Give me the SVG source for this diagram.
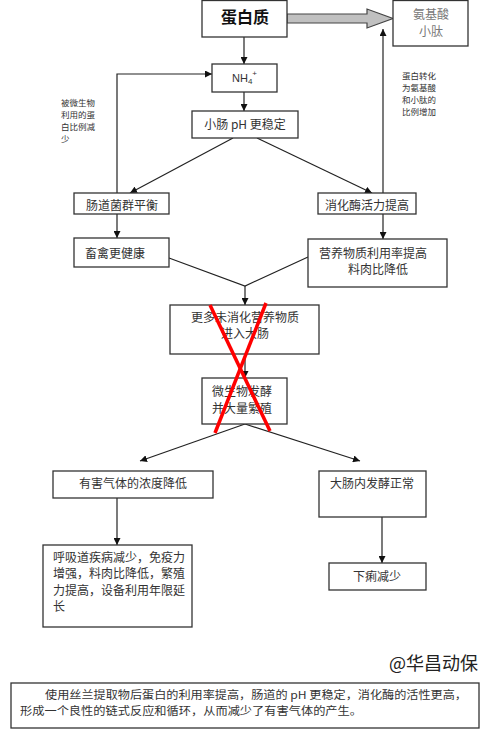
<svg xmlns="http://www.w3.org/2000/svg" width="491" height="740" viewBox="0 0 491 740">
<defs>
<marker id="ah" viewBox="0 0 10 10" refX="10" refY="5" markerWidth="7" markerHeight="7" markerUnits="userSpaceOnUse" orient="auto"><path d="M0,0 L10,5 L0,10 z" fill="#111"/></marker>
</defs>
<style>
.box{fill:#fff;stroke:#333;stroke-width:1.3}
.t{font-family:"Noto Sans CJK SC","Liberation Sans",sans-serif;font-size:12px;fill:#333}
.c{text-anchor:middle}
.s{font-size:8.5px}
.ln{fill:none;stroke:#222;stroke-width:1.2}
.x{fill:none;stroke:#f00;stroke-width:3.5}
</style>
<rect width="491" height="740" fill="#fff"/>
<g id="connectors">
<polygon points="287,14 367,14 367,9 393,18.5 367,28 367,23 287,23" fill="#c0c0c0" stroke="#444" stroke-width="1.2"/>
<path class="ln" d="M244,37 V64" marker-end="url(#ah)"/>
<path class="ln" d="M244,92 V111" marker-end="url(#ah)"/>
<path class="ln" d="M117,193 V74 H212" marker-end="url(#ah)"/>
<path class="ln" d="M383,193 V29" marker-end="url(#ah)"/>
<path class="ln" d="M233,138 L130,193" marker-end="url(#ah)"/>
<path class="ln" d="M257,138 L372,193" marker-end="url(#ah)"/>
<path class="ln" d="M117,214 V238" marker-end="url(#ah)"/>
<path class="ln" d="M383,214 V239" marker-end="url(#ah)"/>
<path class="ln" d="M169,258 L245,286 L308,257"/>
<path class="ln" d="M245,286 V305" marker-end="url(#ah)"/>
<path class="ln" d="M245,354 V378" marker-end="url(#ah)"/>
<path class="ln" d="M245,424 L140,461" marker-end="url(#ah)"/>
<path class="ln" d="M245,424 L360,461" marker-end="url(#ah)"/>
<path class="ln" d="M117,498 V545" marker-end="url(#ah)"/>
<path class="ln" d="M382,517 V563" marker-end="url(#ah)"/>
</g>
<g id="n-protein"><rect class="box" x="202" y="0.5" width="85" height="36.5"/><text class="t c" x="245" y="23" style="font-size:16px;font-weight:bold;fill:#111">蛋白质</text></g>
<g id="n-amino"><rect class="box" x="393" y="0.5" width="75" height="45.5"/><text class="t c" x="431" y="18.5" style="fill:#777">氨基酸</text><text class="t c" x="431" y="35.5" style="fill:#777">小肽</text></g>
<g id="n-nh4"><rect class="box" x="212" y="64" width="65" height="28"/><text class="t" x="232" y="82" style="font-family:'Liberation Sans',sans-serif;font-size:11px">NH<tspan font-size="8" dy="2">4</tspan><tspan font-size="8" dy="-8">+</tspan></text></g>
<g id="n-ph"><rect class="box" x="192" y="111" width="106" height="27"/><text class="t c" x="245" y="128.5">小肠 pH 更稳定</text></g>
<g id="n-flora"><rect class="box" x="74" y="193" width="95" height="21"/><text class="t c" x="122" y="209.5">肠道菌群平衡</text></g>
<g id="n-enzyme"><rect class="box" x="318" y="193" width="98" height="21"/><text class="t c" x="367" y="209.5">消化酶活力提高</text></g>
<g id="n-healthy"><rect class="box" x="74" y="238" width="95" height="29"/><text class="t" x="85" y="257.5">畜禽更健康</text></g>
<g id="n-nutri"><rect class="box" x="308" y="239" width="139" height="48"/><text class="t c" x="373" y="257.5">营养物质利用率提高</text><text class="t c" x="378" y="273.5">料肉比降低</text></g>
<g id="n-more"><rect class="box" x="170" y="305" width="149" height="49"/><text class="t c" x="245" y="321.5">更多未消化营养物质</text><text class="t c" x="245" y="337.5">进入大肠</text></g>
<g id="n-ferment"><rect class="box" x="202" y="378" width="85" height="46"/><text class="t" x="212" y="395.5">微生物发酵</text><text class="t" x="212" y="412.5">并大量繁殖</text></g>
<g id="n-gas"><rect class="box" x="53" y="471" width="160" height="27"/><text class="t c" x="133" y="487.5">有害气体的浓度降低</text></g>
<g id="n-normal"><rect class="box" x="319" y="471" width="107" height="46"/><text class="t c" x="372" y="487.5">大肠内发酵正常</text></g>
<g id="n-resp"><rect class="box" x="43" y="545" width="149" height="82"/><text class="t" x="53" y="561.5">呼吸道疾病减少，免疫力</text><text class="t" x="53" y="578">增强，料肉比降低，繁殖</text><text class="t" x="53" y="594.5">力提高，设备利用年限延</text><text class="t" x="53" y="611">长</text></g>
<g id="n-diarrhea"><rect class="box" x="329" y="563" width="97" height="27"/><text class="t c" x="377" y="580.5">下痢减少</text></g>
<g id="cross"><path class="x" d="M210,305 L270,431"/><path class="x" d="M266,303 L215,433"/></g>
<g id="labels">
<text class="t s" x="61" y="106">被微生物</text><text class="t s" x="61" y="118">利用的蛋</text><text class="t s" x="61" y="130">白比例减</text><text class="t s" x="61" y="142">少</text>
<text class="t s" x="402" y="79">蛋白转化</text><text class="t s" x="402" y="91">为氨基酸</text><text class="t s" x="402" y="103">和小肽的</text><text class="t s" x="402" y="115">比例增加</text>
<text class="t" x="478" y="669.5" style="font-size:18px;fill:#222;text-anchor:end">@华昌动保</text>
</g>
<g id="n-summary"><rect class="box" x="11" y="683" width="468" height="45"/><text class="t" x="45" y="699" style="font-size:11px" textLength="422" lengthAdjust="spacingAndGlyphs">使用丝兰提取物后蛋白的利用率提高，肠道的 pH 更稳定，消化酶的活性更高，</text><text class="t" x="20" y="715" style="font-size:11px" textLength="342" lengthAdjust="spacingAndGlyphs">形成一个良性的链式反应和循环，从而减少了有害气体的产生。</text></g>
</svg>
